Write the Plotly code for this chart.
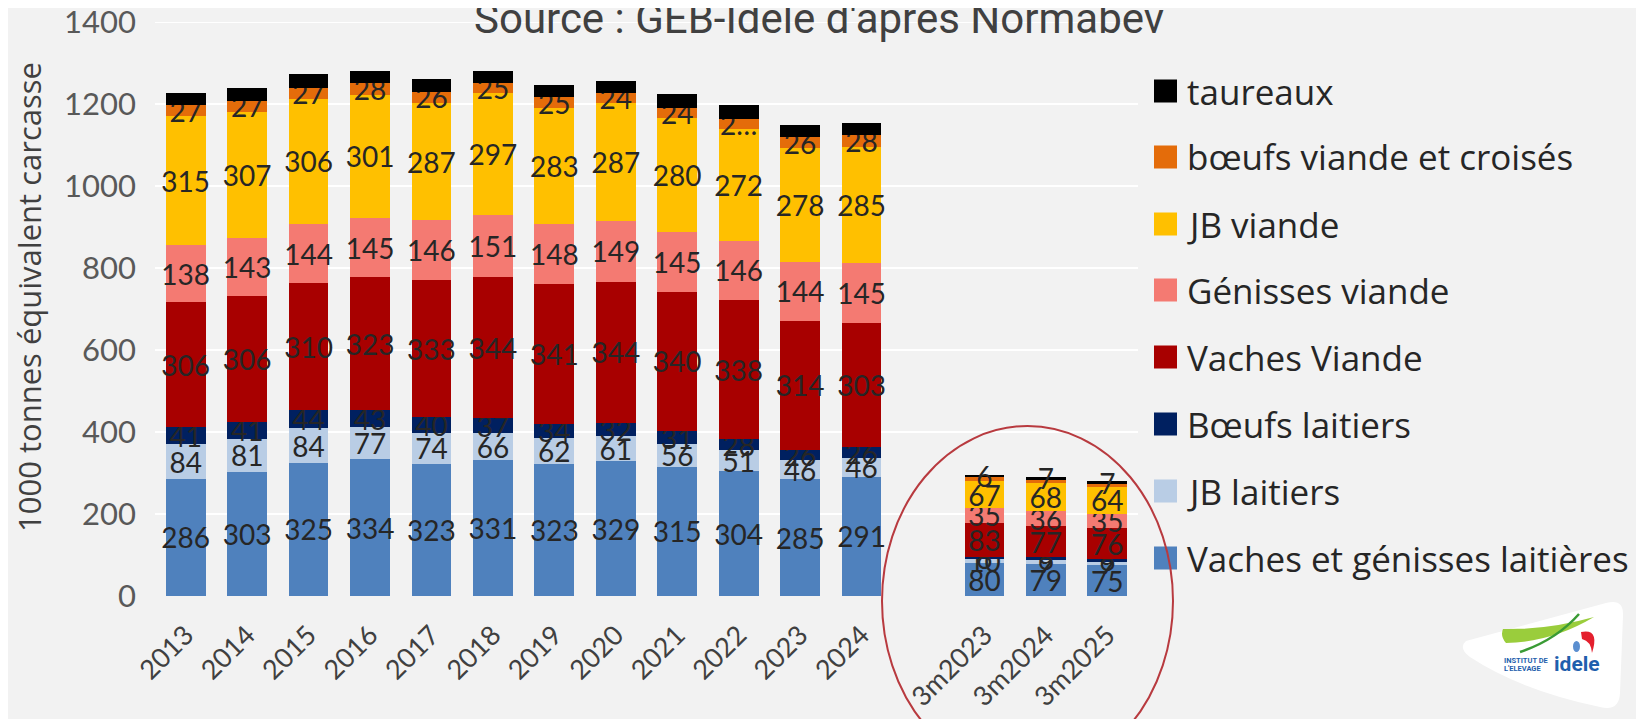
import plotly.graph_objects as go

# ---------------- data ----------------
categories = ["2013", "2014", "2015", "2016", "2017", "2018", "2019", "2020",
              "2021", "2022", "2023", "2024", " ", "3m2023", "3m2024", "3m2025"]

vaches_laitieres = [286, 303, 325, 334, 323, 331, 323, 329, 315, 304, 285, 291, None, 80, 79, 75]
jb_laitiers = [84, 81, 84, 77, 74, 66, 62, 61, 56, 51, 46, 46, None, 10, 9, 9]
boeufs_laitiers = [41, 41, 44, 43, 40, 37, 34, 32, 31, 28, 26, 26, None, 6, 6, 6]
vaches_viande = [306, 306, 310, 323, 333, 344, 341, 344, 340, 338, 314, 303, None, 83, 77, 76]
genisses_viande = [138, 143, 144, 145, 146, 151, 148, 149, 145, 146, 144, 145, None, 35, 36, 35]
jb_viande = [315, 307, 306, 301, 287, 297, 283, 287, 280, 272, 278, 285, None, 67, 68, 64]
boeufs_viande = [27, 27, 27, 28, 26, 25, 25, 24, 24, 24, 26, 28, None, 9, 9, 8]
taureaux = [29, 31, 32, 29, 31, 30, 31, 31, 33, 35, 29, 29, None, 6, 7, 7]

boeufs_viande_labels = ["27", "27", "27", "28", "26", "25", "25", "24", "24", "2…", "26", "28", "", "", "", ""]
taureaux_labels = ["", "", "", "", "", "", "", "", "", "", "", "", "", "6", "7", "7"]

series_names = ["Vaches et génisses laitières", "JB laitiers", "Bœufs laitiers", "Vaches Viande",
                "Génisses viande", "JB viande", "bœufs viande et croisés", "taureaux"]
series_colors = ["#4F81BD", "#B9CDE5", "#002060", "#A80000",
                 "#F47A72", "#FFC000", "#E46C0A", "#000000"]

y_ticks = [0, 200, 400, 600, 800, 1000, 1200, 1400]
y_title = "1000 tonnes équivalent carcasse"
chart_title = "Source : GEB-Idele d'après Normabev"


def lbl(vals):
    return ["" if v is None else str(v) for v in vals]


series_values = [vaches_laitieres, jb_laitiers, boeufs_laitiers, vaches_viande,
                 genisses_viande, jb_viande, boeufs_viande, taureaux]
series_labels = [lbl(vaches_laitieres), lbl(jb_laitiers), lbl(boeufs_laitiers), lbl(vaches_viande),
                 lbl(genisses_viande), lbl(jb_viande), boeufs_viande_labels, taureaux_labels]

# ---------------- layout geometry (screen pixels) ----------------
W, H = 1644, 719
OFF = 8  # page body margin
L, R, T, B = 155 - OFF, 1138 - OFF, 22 - OFF, 596 - OFF


def px(x):
    return (x - OFF - L) / (R - L)


def py(y):
    return (B - (y - OFF)) / (B - T)


LABEL_FONT = "Lato, 'Open Sans', sans-serif"
WIDE_FONT = "'Open Sans', 'Noto Sans', sans-serif"

fig = go.Figure()
for name, vals, labels, color in zip(series_names, series_values, series_labels, series_colors):
    fig.add_trace(go.Bar(
        x=categories, y=vals, name=name, text=labels,
        marker=dict(color=color, line=dict(width=0)),
        textposition="inside", insidetextanchor="middle", textangle=0,
        constraintext="none", cliponaxis=False,
        textfont=dict(family=LABEL_FONT, size=28, color="#262626"),
        hoverinfo="skip", showlegend=False,
    ))

shapes = []
annotations = []

# top gridline (plotly drops the gridline lying on the plot edge)
shapes.append(dict(type="line", xref="paper", yref="y", x0=0, x1=1,
                   y0=y_ticks[-1], y1=y_ticks[-1], layer="below",
                   line=dict(color="#FFFFFF", width=2)))

# manual legend (top to bottom: reverse of stacking order)
legend_rows_y = [91, 157, 224, 290, 357, 424, 491, 558]
for i, (name, color) in enumerate(zip(series_names[::-1], series_colors[::-1])):
    yc = legend_rows_y[i]
    shapes.append(dict(type="rect", xref="paper", yref="paper",
                       x0=px(1154), x1=px(1177), y0=py(yc + 11.5), y1=py(yc - 11.5),
                       fillcolor=color, line=dict(width=0)))
    annotations.append(dict(xref="paper", yref="paper", x=px(1185), y=py(yc),
                            xanchor="left", yanchor="middle", showarrow=False,
                            text=name, font=dict(family=WIDE_FONT, size=35, color="#262626")))

# y axis title
annotations.append(dict(xref="paper", yref="paper", x=px(29), y=py(297), textangle=-90,
                        xanchor="center", yanchor="middle", showarrow=False, text=y_title,
                        font=dict(family=WIDE_FONT, size=31, color="#404040")))

# title (top edge of letters touches the frame, as in the source)
annotations.append(dict(xref="paper", yref="paper", x=px(819), y=py(-8), xanchor="center",
                        yanchor="top", showarrow=False, text=chart_title,
                        font=dict(family="Roboto, sans-serif", size=42, color="#404040")))

# red ellipse around quarterly bars
shapes.append(dict(type="circle", xref="paper", yref="paper",
                   x0=px(882), x1=px(1173), y0=py(776), y1=py(426),
                   line=dict(color="#B83A3F", width=2), fillcolor="rgba(0,0,0,0)"))


# idele logo (approximation)
def path(points_cmds):
    out = []
    for cmd, pts in points_cmds:
        coords = " ".join(f"{px(x):.5f},{py(y):.5f}" for x, y in pts)
        out.append(f"{cmd} {coords}")
    return " ".join(out) + " Z"


logo_bg = path([("M", [(1466, 641)]), ("L", [(1606, 603)]), ("Q", [(1624, 598), (1623, 616)]),
                ("L", [(1620, 693)]), ("Q", [(1619, 712), (1600, 707)]),
                ("Q", [(1520, 690), (1470, 657)]), ("Q", [(1458, 648), (1466, 641)])])
shapes.append(dict(type="path", xref="paper", yref="paper", path=logo_bg,
                   fillcolor="#FFFFFF", line=dict(width=0)))
green = path([("M", [(1503, 629)]), ("Q", [(1548, 630), (1594, 617)]),
              ("Q", [(1552, 642), (1506, 643)]), ("Q", [(1500, 636), (1503, 629)])])
shapes.append(dict(type="path", xref="paper", yref="paper", path=green,
                   fillcolor="#9ACD3C", line=dict(width=0)))
shapes.append(dict(type="path", xref="paper", yref="paper",
                   path=f"M {px(1520):.5f},{py(652):.5f} Q {px(1556):.5f},{py(640):.5f} {px(1579):.5f},{py(614):.5f}",
                   line=dict(color="#3A9B35", width=2.5)))
red = path([("M", [(1581, 632)]), ("Q", [(1600, 628), (1592, 653)]),
            ("Q", [(1591, 641), (1582, 639)])])
shapes.append(dict(type="path", xref="paper", yref="paper", path=red,
                   fillcolor="#E4202E", line=dict(width=0)))
shapes.append(dict(type="circle", xref="paper", yref="paper",
                   x0=px(1573), x1=px(1580), y0=py(652), y1=py(641),
                   fillcolor="#5B8FD0", line=dict(width=0)))
annotations.append(dict(xref="paper", yref="paper", x=px(1502), y=py(660), xanchor="left",
                        yanchor="middle", showarrow=False, text="<b>INSTITUT DE</b>",
                        font=dict(family="Roboto", size=7.5, color="#1F5FAD")))
annotations.append(dict(xref="paper", yref="paper", x=px(1502), y=py(668), xanchor="left",
                        yanchor="middle", showarrow=False, text="<b>L'ELEVAGE</b>",
                        font=dict(family="Roboto", size=7.5, color="#1F5FAD")))
annotations.append(dict(xref="paper", yref="paper", x=px(1552), y=py(664), xanchor="left",
                        yanchor="middle", showarrow=False, text="<b>idele</b>",
                        font=dict(family="Roboto", size=21, color="#1F5FAD")))

fig.update_layout(
    width=W, height=H,
    barmode="stack", bargap=0.353,
    paper_bgcolor="#F2F2F2", plot_bgcolor="#F2F2F2",
    margin=dict(l=L, r=W - R, t=T, b=H - B, pad=0, autoexpand=False),
    showlegend=False,
    shapes=shapes, annotations=annotations,
    xaxis=dict(type="category", categoryorder="array", categoryarray=categories,
               automargin=False, ticklabeloverflow="allow",
               tickangle=-45, showgrid=False, showline=False, ticks="", zeroline=False,
               tickfont=dict(family=LABEL_FONT, size=27, color="#404040"),
               ticklabelstandoff=17),
    yaxis=dict(range=[y_ticks[0], y_ticks[-1]], tickvals=y_ticks,
               showgrid=True, gridcolor="#FFFFFF", gridwidth=2,
               automargin=False, ticklabeloverflow="allow",
               zeroline=False, showline=False, ticks="",
               tickfont=dict(family=LABEL_FONT, size=31, color="#595959"),
               ticklabelstandoff=18),
)

fig.write_html("out.html")
